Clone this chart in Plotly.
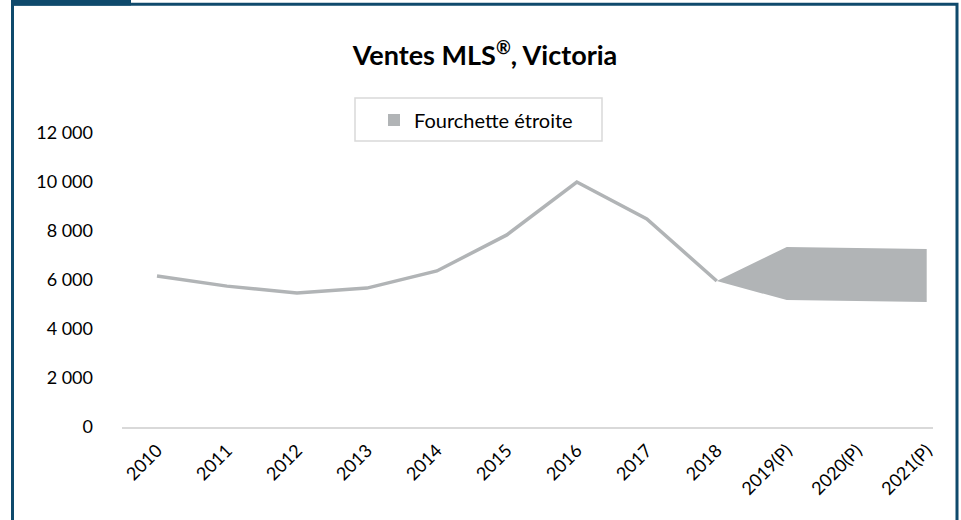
import plotly.graph_objects as go

# Historical MLS sales, Victoria
years = ['2010', '2011', '2012', '2013', '2014', '2015', '2016', '2017', '2018']
sales = [6160, 5750, 5470, 5670, 6370, 7840, 10000, 8490, 5960]

# Forecast range (narrow band)
forecast_years = ['2018', '2019(P)', '2020(P)', '2021(P)']
upper = [5960, 7350, 7310, 7270]
lower = [5960, 5180, 5140, 5100]

all_years = years + forecast_years[1:]
y_ticks = [0, 2000, 4000, 6000, 8000, 10000, 12000]

GREY = "#b1b4b6"
NAVY = "#0f4a6c"
FONT = "Lato"

# plot area in pixels
W, H = 961, 520
L, R, T, B = 122, 933, 133, 427


def px_x(x):
    return (x - L) / (R - L)


def px_y(y):
    return (B - y) / (B - T)


fig = go.Figure()

fig.add_trace(go.Scatter(
    x=forecast_years + forecast_years[::-1],
    y=upper + lower[::-1],
    fill="toself",
    fillcolor=GREY,
    mode="none",
    showlegend=False,
    hoverinfo="skip",
))

fig.add_trace(go.Scatter(
    x=years, y=sales,
    mode="lines",
    line=dict(color=GREY, width=3.5),
    showlegend=False,
))

# legend entry only
fig.add_trace(go.Scatter(
    x=[None], y=[None],
    mode="markers",
    marker=dict(symbol="square", size=14, color=GREY),
    name="Fourchette étroite",
))

fig.update_layout(
    width=W, height=H,
    margin=dict(l=L, r=W - R, t=T, b=H - B),
    plot_bgcolor="white",
    paper_bgcolor="white",
    separators=", ",
    font=dict(family=FONT, size=16, color="#000000"),
    title=dict(
        text="<b>Ventes MLS<sup><span style='font-size:18px'>®</span></sup>, Victoria</b>",
        x=485 / W, xanchor="center",
        y=1 - 56 / H, yanchor="middle",
        font=dict(family=FONT, size=27, color="#000000"),
    ),
    legend=dict(
        orientation="h",
        x=px_x(374), xanchor="left",
        y=px_y(120), yanchor="middle",
        borderwidth=0,
        bgcolor="rgba(0,0,0,0)",
        font=dict(family=FONT, size=20),
        itemsizing="constant",
    ),
    xaxis=dict(
        type="category",
        categoryorder="array",
        categoryarray=all_years,
        range=[-0.5, 11.09],
        showgrid=False,
        showline=True, linecolor="#d9d9d9", linewidth=2,
        tickangle=-45,
        ticks="",
        ticklabelstandoff=4,
        tickfont=dict(family=FONT, size=18),
        fixedrange=True,
    ),
    yaxis=dict(
        range=[0, 12000],
        tickvals=y_ticks,
        tickformat=",d",
        showgrid=False,
        zeroline=False,
        showline=False,
        ticks="",
        ticklabelstandoff=28,
        tickfont=dict(family=FONT, size=18),
        fixedrange=True,
    ),
)

# legend frame
fig.add_shape(
    type="rect", xref="paper", yref="paper",
    x0=px_x(355), x1=px_x(602), y0=px_y(141), y1=px_y(98),
    line=dict(color="#d9d9d9", width=1.5), fillcolor="rgba(0,0,0,0)",
)
# outer frame
fig.add_shape(
    type="rect", xref="paper", yref="paper",
    x0=px_x(12.5), x1=px_x(957), y0=px_y(540), y1=px_y(4.3),
    line=dict(color=NAVY, width=3), fillcolor="rgba(0,0,0,0)",
    layer="above",
)
# tab at top-left
fig.add_shape(
    type="rect", xref="paper", yref="paper",
    x0=px_x(11), x1=px_x(131), y0=px_y(5.5), y1=px_y(-2),
    line=dict(width=0), fillcolor=NAVY,
    layer="above",
)

fig.write_html(
    "out.html",
    config={"displayModeBar": False},
    post_script="document.body.style.margin='0';document.body.style.overflow='hidden';",
)
